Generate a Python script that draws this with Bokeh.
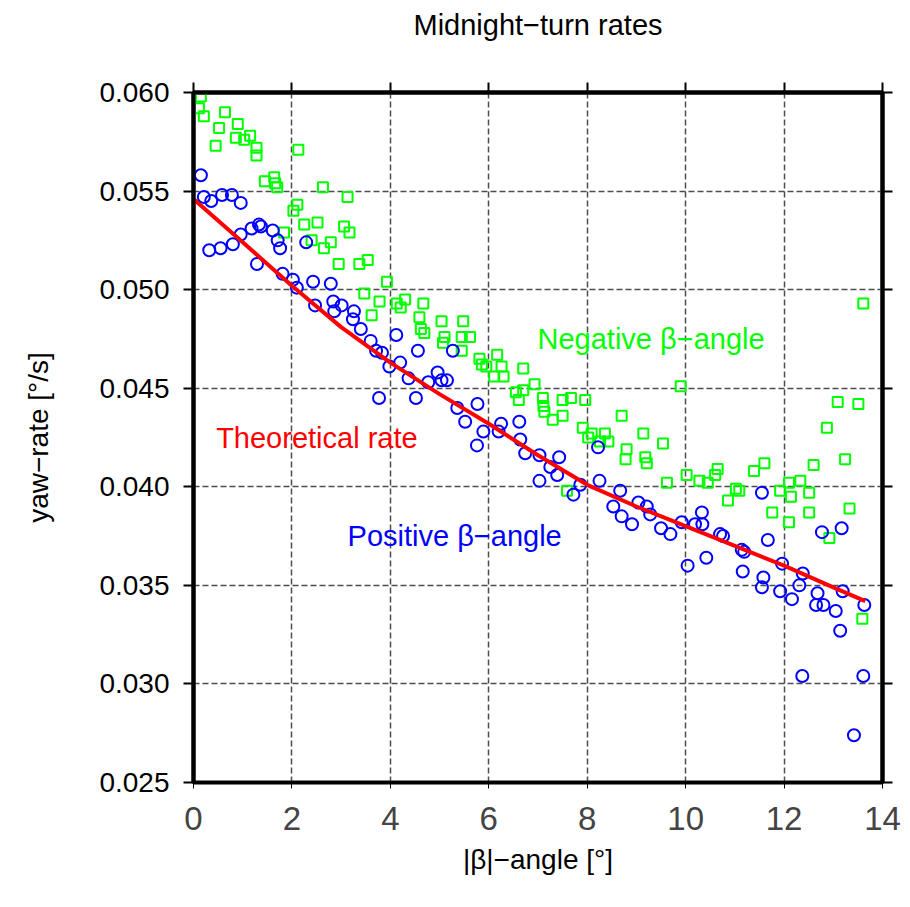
from bokeh.plotting import figure
from bokeh.models import Range1d, LinearAxis, FixedTicker, PrintfTickFormatter, ColumnDataSource, Title
from bokeh.core.properties import value
from bokeh.embed import file_html
from bokeh.resources import INLINE

# ---- data ----
pos_x = [0.15, 0.21, 0.36, 0.58, 0.78, 0.96, 0.32, 0.55, 0.80, 0.96, 1.18, 1.33, 1.37, 1.61, 1.71,
         1.76, 1.29, 1.81, 2.02, 2.10, 2.29, 2.43, 2.79, 2.47, 2.84, 2.86, 3.01, 3.26, 3.24, 3.40,
         3.60, 3.71, 3.83, 3.98, 4.20, 4.37, 4.12, 3.77, 4.52, 4.56, 4.96, 5.04, 5.15, 4.77, 5.27,
         5.36, 5.52, 5.77, 5.89, 5.76, 6.20, 6.25, 6.62, 6.64, 6.74, 7.03, 7.25, 7.43, 7.39, 7.03,
         7.72, 7.86, 8.25, 8.22, 8.67, 8.53, 8.70, 8.91, 9.04, 9.21, 9.28, 9.50, 9.69, 9.92, 10.19,
         10.34, 10.33, 10.70, 10.76, 10.04, 10.42, 11.67, 11.55, 11.14, 11.19, 11.16, 11.58, 11.55,
         11.96, 12.38, 11.92, 12.16, 12.31, 12.68, 12.65, 12.80, 13.05, 13.14, 13.19, 12.77, 13.17,
         13.63, 12.37, 13.61, 13.42]
pos_y = [0.0558, 0.0547, 0.0545, 0.0548, 0.0548, 0.0544, 0.0520, 0.0521, 0.0523, 0.0528, 0.0531,
         0.0533, 0.0532, 0.0530, 0.0525, 0.0521, 0.0513, 0.0508, 0.0505, 0.0501, 0.0524, 0.0504,
         0.0503, 0.0492, 0.0494, 0.0489, 0.0492, 0.0489, 0.0485, 0.0480, 0.0474, 0.0469, 0.0468,
         0.0461, 0.0463, 0.0455, 0.0477, 0.0445, 0.0445, 0.0469, 0.0458, 0.0454, 0.0454, 0.0453,
         0.0469, 0.0440, 0.0433, 0.0442, 0.0428, 0.0421, 0.0428, 0.0432, 0.0433, 0.0424, 0.0417,
         0.0416, 0.0410, 0.0415, 0.0406, 0.0403, 0.0396, 0.0401, 0.0403, 0.0420, 0.0398, 0.0390,
         0.0385, 0.0381, 0.0392, 0.0390, 0.0386, 0.0379, 0.0376, 0.0382, 0.0381, 0.0381, 0.0387,
         0.0376, 0.0375, 0.0360, 0.0364, 0.0373, 0.0397, 0.0368, 0.0367, 0.0357, 0.0354, 0.0349,
         0.0361, 0.0356, 0.0347, 0.0343, 0.0350, 0.0346, 0.0340, 0.0340, 0.0337, 0.0327, 0.0347,
         0.0377, 0.0379, 0.0340, 0.0304, 0.0304, 0.0274]

neg_x = [0.15, 0.11, 0.21, 0.64, 0.52, 0.90, 0.86, 1.03, 1.15, 1.28, 1.28, 0.45, 2.13, 1.45, 1.64,
         1.66, 1.70, 2.63, 3.13, 2.11, 2.03, 1.84, 2.25, 2.52, 3.06, 3.17, 2.40, 2.65, 2.79, 2.95,
         3.37, 3.54, 3.93, 3.47, 3.78, 4.13, 4.21, 4.30, 3.62, 4.59, 4.62, 4.67, 5.04, 5.48, 4.69,
         5.10, 5.07, 5.45, 5.62, 5.45, 5.81, 5.86, 6.17, 5.95, 6.26, 6.11, 6.30, 6.70, 6.93, 6.70,
         6.55, 6.61, 7.10, 7.11, 7.13, 7.30, 7.50, 7.67, 7.96, 7.50, 7.91, 8.09, 8.02, 8.36, 8.43,
         8.26, 8.70, 7.59, 8.80, 8.78, 9.14, 9.18, 9.21, 13.61, 9.90, 9.54, 9.62, 10.02, 10.28,
         10.45, 10.60, 10.65, 11.02, 11.09, 10.86, 11.39, 11.60, 11.76, 11.92, 12.10, 12.14, 12.33,
         12.51, 12.10, 12.51, 12.60, 12.87, 13.09, 13.51, 13.24, 13.33, 12.92, 13.59]
neg_y = [0.0598, 0.0592, 0.0588, 0.0590, 0.0582, 0.0584, 0.0577, 0.0576, 0.0578, 0.0572, 0.0568,
         0.0573, 0.0571, 0.0555, 0.0557, 0.0554, 0.0552, 0.0552, 0.0547, 0.0543, 0.0540, 0.0529,
         0.0533, 0.0534, 0.0532, 0.0529, 0.0525, 0.0521, 0.0524, 0.0513, 0.0513, 0.0515, 0.0504,
         0.0498, 0.0494, 0.0493, 0.0491, 0.0495, 0.0487, 0.0486, 0.0480, 0.0493, 0.0484, 0.0484,
         0.0478, 0.0476, 0.0473, 0.0476, 0.0476, 0.0469, 0.0465, 0.0462, 0.0467, 0.0461, 0.0461,
         0.0456, 0.0456, 0.0460, 0.0452, 0.0449, 0.0448, 0.0444, 0.0445, 0.0441, 0.0438, 0.0434,
         0.0444, 0.0445, 0.0444, 0.0436, 0.0430, 0.0427, 0.0425, 0.0427, 0.0423, 0.0423, 0.0436,
         0.0398, 0.0419, 0.0414, 0.0427, 0.0415, 0.0412, 0.0493, 0.0451, 0.0422, 0.0402, 0.0406,
         0.0403, 0.0402, 0.0406, 0.0409, 0.0399, 0.0398, 0.0393, 0.0408, 0.0412, 0.0387, 0.0398,
         0.0402, 0.0395, 0.0403, 0.0397, 0.0382, 0.0387, 0.0411, 0.0430, 0.0443, 0.0442, 0.0414,
         0.0389, 0.0374, 0.0333]

theory_x = [0, 1, 2, 3, 4, 5, 6, 7, 8, 9, 10, 11, 12, 13, 13.65]
theory_y = [0.0546, 0.0524, 0.0502, 0.0481, 0.0463, 0.0447, 0.0432, 0.0416, 0.0401, 0.0390,
            0.0380, 0.0370, 0.0360, 0.0349, 0.0342]

x_ticks = [0, 2, 4, 6, 8, 10, 12, 14]
y_ticks = [0.025, 0.030, 0.035, 0.040, 0.045, 0.050, 0.055, 0.060]

title_text = "Midnight\u2212turn rates"
x_label = "|\u03b2|\u2212angle [\u00b0]"
y_label = "yaw\u2212rate [\u00b0/s]"
label_neg = "Negative \u03b2\u2212angle"
label_theory = "Theoretical rate"
label_pos = "Positive \u03b2\u2212angle"

FONT = "Liberation Sans"

p = figure(width=910, height=907, x_range=Range1d(0, 14), y_range=Range1d(0.025, 0.060),
           output_backend="svg", toolbar_location=None,
           min_border_left=193, min_border_right=28, min_border_top=92, min_border_bottom=125)
p.background_fill_color = "white"
p.border_fill_color = "white"
p.outline_line_color = "black"
p.outline_line_width = 4

p.title.text = title_text
p.title.align = "center"
p.title.text_font = FONT
p.title.text_font_size = "29px"
p.title.text_font_style = "normal"
p.title.text_color = "black"

xt = FixedTicker(ticks=x_ticks)
yt = FixedTicker(ticks=y_ticks)

for ax in p.xaxis:
    ax.ticker = xt
    ax.axis_label = x_label
    ax.axis_label_text_font = FONT
    ax.axis_label_text_font_size = "28px"
    ax.axis_label_text_font_style = "normal"
    ax.axis_label_text_color = "black"
    ax.axis_label_standoff = 11
    ax.major_label_text_font = FONT
    ax.major_label_text_font_size = "33px"
    ax.major_label_standoff = 18

for ax in p.yaxis:
    ax.ticker = yt
    ax.formatter = PrintfTickFormatter(format="%.3f")
    ax.axis_label = y_label
    ax.axis_label_text_font = FONT
    ax.axis_label_text_font_size = "28px"
    ax.axis_label_text_font_style = "normal"
    ax.axis_label_text_color = "black"
    ax.axis_label_standoff = 42
    ax.major_label_text_font = FONT
    ax.major_label_text_font_size = "28px"
    ax.major_label_standoff = 14

top_ax = LinearAxis(ticker=xt, major_label_text_font_size="0px")
right_ax = LinearAxis(ticker=yt, major_label_text_font_size="0px")
p.add_layout(top_ax, "above")
p.add_layout(right_ax, "right")
# empty spacer between the top axis and the title
p.add_layout(Title(text=" ", text_font_size="20px", standoff=13), "above")

for ax in [p.xaxis[0], p.yaxis[0], top_ax, right_ax]:
    ax.axis_line_width = 4
    ax.axis_line_color = "black"
    ax.major_tick_line_width = 2
    ax.major_tick_line_color = "black"
    ax.major_tick_out = 10
    ax.major_tick_in = 0
    ax.minor_tick_line_color = None
    ax.major_label_text_color = "black"

p.xgrid.ticker = xt
p.ygrid.ticker = yt
for g in [p.xgrid[0], p.ygrid[0]]:
    g.grid_line_color = "#4d4d4d"
    g.grid_line_width = 1.5
    g.grid_line_dash = "6 3"

pos_src = ColumnDataSource(dict(x=pos_x, y=pos_y))
neg_src = ColumnDataSource(dict(x=neg_x, y=neg_y))
th_src = ColumnDataSource(dict(x=theory_x, y=theory_y))

p.scatter("x", "y", source=neg_src, marker="square", size=10, fill_color=None,
          line_color="#00ff00", line_width=2)
p.scatter("x", "y", source=pos_src, marker="circle", size=12, fill_color=None,
          line_color="#0000ff", line_width=2)
p.line("x", "y", source=th_src, line_color="#ff0000", line_width=4)

p.text(x=[6.99], y=[0.04751], text=[label_neg], text_color="#00ff00",
       text_font=value(FONT), text_font_size="29px", text_baseline="middle", text_align="left")
p.text(x=[0.46], y=[0.04249], text=[label_theory], text_color="#ff0000",
       text_font=value(FONT), text_font_size="29px", text_baseline="middle", text_align="left")
p.text(x=[3.13], y=[0.03749], text=[label_pos], text_color="#0000ff",
       text_font=value(FONT), text_font_size="29px", text_baseline="middle", text_align="left")

open("out.html", "w").write(file_html(p, INLINE))
